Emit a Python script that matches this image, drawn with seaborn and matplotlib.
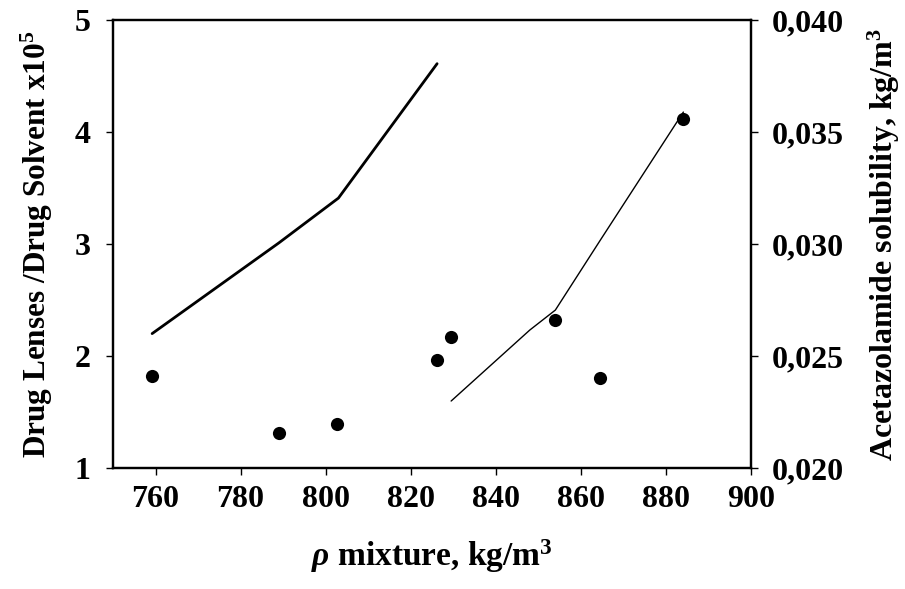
import matplotlib
matplotlib.use("Agg")
import matplotlib.pyplot as plt
from matplotlib.ticker import FuncFormatter
import seaborn as sns
import pandas as pd

# ratio drug lenses / drug solvent (x1e5), left axis
ratio_density = [759.2, 789.0, 803.0, 826.2]
ratio_values = [2.20, 3.01, 3.41, 4.61]

# solubility fit line, right axis
fit_density = [829.5, 848.0, 854.0, 864.6, 884.1]
fit_values = [0.02299, 0.02616, 0.02705, 0.03018, 0.03589]

# measured solubility points, right axis
sol_density = [759.2, 789.1, 802.7, 826.2, 829.4, 854.0, 864.4, 884.0]
sol_values = [0.02412, 0.02157, 0.02198, 0.02482, 0.02584, 0.02660, 0.02400, 0.03558]

left_ticks = [1, 2, 3, 4, 5]
right_ticks = [0.020, 0.025, 0.030, 0.035, 0.040]
x_ticks = [760, 780, 800, 820, 840, 860, 880, 900]

sns.set_style("ticks")
plt.rcParams["font.family"] = ["Liberation Serif", "DejaVu Serif"]
plt.rcParams["font.weight"] = "bold"
plt.rcParams["text.color"] = "black"
plt.rcParams["axes.labelcolor"] = "black"
plt.rcParams["mathtext.fontset"] = "custom"
plt.rcParams["mathtext.rm"] = "Liberation Serif:bold"
plt.rcParams["mathtext.bf"] = "Liberation Serif:bold"
plt.rcParams["mathtext.it"] = "Liberation Serif:italic"

fig = plt.figure(figsize=(9.05, 5.89), dpi=100)
ax = fig.add_axes([113 / 905, 1 - 468 / 589, (751 - 113) / 905, (468 - 20) / 589])
ax2 = ax.twinx()

ratio_df = pd.DataFrame({"density": ratio_density, "value": ratio_values})
fit_df = pd.DataFrame({"density": fit_density, "value": fit_values})
sol_df = pd.DataFrame({"density": sol_density, "value": sol_values})

sns.lineplot(data=ratio_df, x="density", y="value", ax=ax, color="black",
             linewidth=2.0, sort=False)
sns.lineplot(data=fit_df, x="density", y="value", ax=ax2, color="black",
             linewidth=1.0, sort=False)
sns.scatterplot(data=sol_df, x="density", y="value", ax=ax2, color="black",
                s=90, edgecolor="black", linewidth=0, zorder=5)

ax.set_xlim(750, 900)
ax.set_ylim(1, 5)
ax2.set_ylim(0.020, 0.040)
ax.set_xticks(x_ticks)
ax.set_yticks(left_ticks)
ax2.set_yticks(right_ticks)
ax2.yaxis.set_major_formatter(FuncFormatter(lambda v, p: f"{v:.3f}".replace(".", ",")))

for a in (ax, ax2):
    for s in a.spines.values():
        s.set_linewidth(1.6)
        s.set_color("black")
        s.set_visible(True)
    a.tick_params(direction="out", length=5, width=1, colors="black",
                  labelsize=23, pad=8)

ax.tick_params(axis="x", pad=7)
ax.tick_params(axis="y", pad=11)
ax2.tick_params(axis="y", pad=10)
ax.set_xlabel(r"$\rho$ mixture, kg/m$^3$", fontsize=24, fontweight="bold", labelpad=17)
ax.set_ylabel(r"Drug Lenses /Drug Solvent x10$^5$", fontsize=22.5, fontweight="bold", labelpad=14)
ax2.set_ylabel(r"Acetazolamide solubility, kg/m$^3$", fontsize=23, fontweight="bold", labelpad=16)

fig.savefig("out.png", dpi=100)
